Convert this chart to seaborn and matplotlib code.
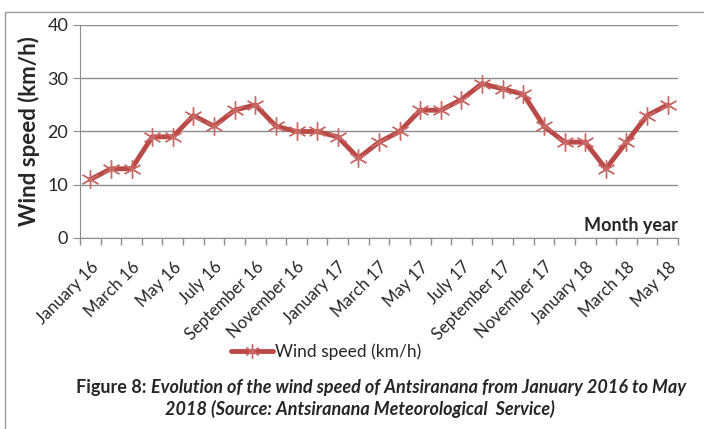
import matplotlib
matplotlib.use('Agg')
import matplotlib.pyplot as plt
import matplotlib.patches as patches
import seaborn as sns
import pandas as pd

sns.set_style('white')
plt.rcParams['font.family'] = ['Lato', 'DejaVu Sans']

# data
months = ['January 16', 'February 16', 'March 16', 'April 16', 'May 16', 'June 16',
          'July 16', 'August 16', 'September 16', 'October 16', 'November 16', 'December 16',
          'January 17', 'February 17', 'March 17', 'April 17', 'May 17', 'June 17',
          'July 17', 'August 17', 'September 17', 'October 17', 'November 17', 'December 17',
          'January 18', 'February 18', 'March 18', 'April 18', 'May 18']
wind_speed = [11, 13, 13, 19, 19, 23, 21, 24, 25, 21, 20, 20,
              19, 15, 18, 20, 24, 24, 26, 29, 28, 27, 21, 18,
              18, 13, 18, 23, 25]
y_ticks = [0, 10, 20, 30, 40]

df = pd.DataFrame({'idx': range(len(months)), 'month': months, 'speed': wind_speed})

red = '#B94A48'
fig = plt.figure(figsize=(7.04, 4.29), dpi=100)
ax = fig.add_axes([80 / 704, 1 - 238 / 429, 598 / 704, 213 / 429])

sns.lineplot(data=df, x='idx', y='speed', ax=ax, color=red, linewidth=3.5,
             marker=(6, 2, 0), markersize=13, markeredgewidth=1,
             markeredgecolor='#C96A68', label='Wind speed (km/h)')

ax.set_xlim(-0.5, len(months) - 0.5)
ax.set_ylim(0, 40)
ax.set_yticks(y_ticks)
ax.yaxis.grid(True, color='#8c8c8c', linewidth=1)
ax.set_axisbelow(True)

# category labels every other month, tick marks at category borders
ax.set_xticks(range(0, len(months), 2))
ax.set_xticklabels(months[::2], rotation=45, ha='right', va='top', rotation_mode='anchor', fontsize=12)
ax.set_xticks([i - 0.5 for i in range(len(months) + 1)], minor=True)
ax.tick_params(axis='x', which='major', length=0, pad=15)
ax.tick_params(axis='x', which='minor', length=5, color='#8c8c8c', width=1, direction='out', bottom=True)
ax.tick_params(axis='y', length=5, color='#8c8c8c', labelsize=13, left=True)

for s in ['top', 'right']:
    ax.spines[s].set_visible(False)
for s in ['left', 'bottom']:
    ax.spines[s].set_color('#8c8c8c')

ax.set_xlabel('')
ax.set_ylabel('Wind speed (km/h)', fontsize=16, fontweight='bold', labelpad=5)
ax.text(1.0, 0.02, 'Month year', transform=ax.transAxes, ha='right', va='bottom',
        fontsize=13, fontweight='bold')

ax.legend(loc='center', bbox_to_anchor=(326 / 704, 1 - 352 / 429), bbox_transform=fig.transFigure,
          frameon=False, fontsize=12.5, handlelength=2.4, handletextpad=0.1, markerscale=0.8)

# caption
fig.text(146 / 704, 1 - 387 / 429, 'Figure 8:', ha='right', va='center', fontsize=13, fontweight='bold')
fig.text(151 / 704, 1 - 387 / 429, 'Evolution of the wind speed of Antsiranana from January 2016 to May',
         ha='left', va='center', fontsize=13, fontweight='bold', style='italic')
fig.text(360 / 704, 1 - 409 / 429, '2018 (Source: Antsiranana Meteorological  Service)',
         ha='center', va='center', fontsize=13, fontweight='bold', style='italic')

# outer frame (left and top visible)
fig.add_artist(patches.Rectangle((5 / 704, -0.1), 2, 1 - 12 / 429 + 0.1, transform=fig.transFigure,
                                 fill=False, edgecolor='#9a9a9a', linewidth=1))

fig.savefig('out.png', dpi=100)
